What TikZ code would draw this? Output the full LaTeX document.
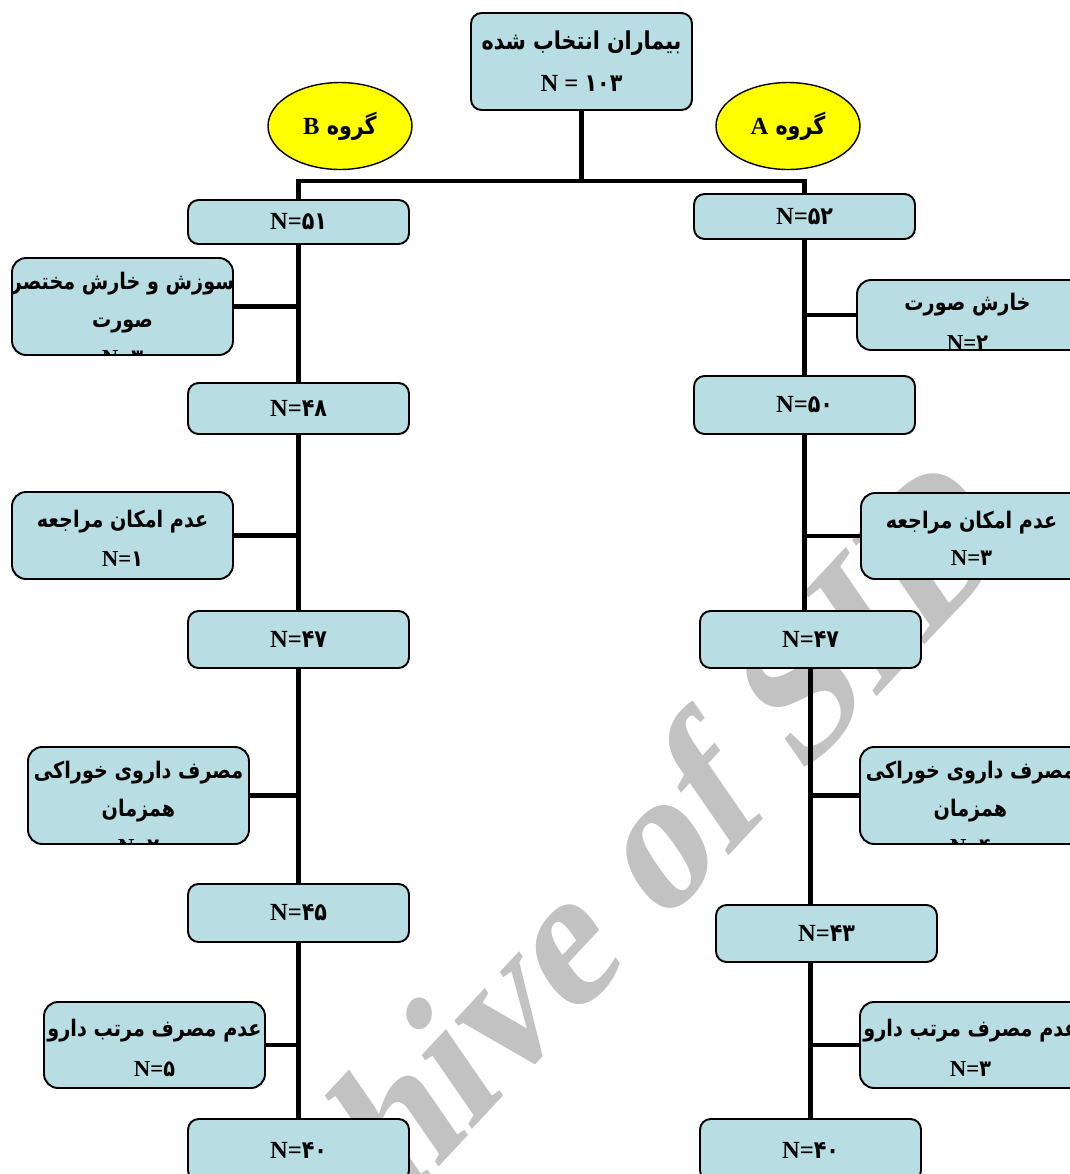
\documentclass[tikz,border=0pt]{standalone}
\usepackage{fontspec}
\setmainfont{Liberation Serif}
\newfontfamily\arabicfont[Script=Arabic, FakeStretch=0.84]{DejaVu Sans}
\newfontfamily\markfont[FakeSlant=0.22]{Liberation Serif}
\TeXXeTstate=1
\usetikzlibrary{shapes.geometric}

\definecolor{boxblue}{RGB}{184,222,227}
\definecolor{ovalyellow}{RGB}{255,255,0}
\definecolor{markgray}{RGB}{194,194,194}

\newcommand{\fa}[1]{\beginR #1\endR}
\newcommand{\Nis}[1]{{\rmfamily N=}{\arabicfont #1}}

\begin{document}
\begin{tikzpicture}[x=0.02cm, y=-0.02cm,
  stage/.style={draw, line width=1.1pt, rounded corners=6pt, fill=boxblue,
    minimum width=4.42cm, align=center, inner sep=0pt,
    font=\bfseries\fontsize{14}{24}\selectfont},
  sidebox/.style={draw, line width=1.1pt, rounded corners=8pt, fill=boxblue,
    minimum width=4.42cm, inner sep=0pt},
  sidetext/.style={align=center, inner sep=0pt,
    font=\arabicfont\bfseries\fontsize{13}{21.5}\selectfont},
  oval/.style={ellipse, draw, line width=0.8pt, fill=ovalyellow,
    minimum width=2.88cm, minimum height=1.74cm, inner sep=0pt,
    font=\arabicfont\bfseries\fontsize{14}{16}\selectfont},
  trunk/.style={line width=2.8pt}]

  \clip (0,0) rectangle (1070,1174);

  %%%%% WATERMARK (behind) %%%%%
  \node[rotate=47, text=markgray,
    font=\markfont\bfseries\fontsize{108}{108}\selectfont] (mark) at (556,944) {Archive of SID};

  %%%%% TOP %%%%%
  \node[stage, minimum height=1.94cm] (top) at (581.5,61.5)
    {{\arabicfont\fa{بیماران انتخاب شده}}\\{\rmfamily N = }{\arabicfont ۱۰۳}};
  \node[oval] (grpB) at (340,126) {\fa{گروه {\rmfamily B}}};
  \node[oval] (grpA) at (788,126) {\fa{گروه {\rmfamily A}}};
  \coordinate (fork) at (581.5,181);

  %%%%% GROUP B %%%%%
  \node[stage, minimum height=0.88cm] (b51) at (298.5,222) {\Nis{۵۱}};
  \node[stage, minimum height=1.02cm] (b48) at (298.5,408.5) {\Nis{۴۸}};
  \node[stage, minimum height=1.14cm] (b47) at (298.5,639.5) {\Nis{۴۷}};
  \node[stage, minimum height=1.16cm] (b45) at (298.5,913) {\Nis{۴۵}};
  \node[stage, minimum height=1.24cm] (b40) at (298.5,1150) {\Nis{۴۰}};

  \node[sidebox, minimum height=1.94cm] (sB1) at (122.5,306.5) {};
  \node[sidebox, minimum height=1.74cm] (sB2) at (122.5,535.5) {};
  \node[sidebox, minimum height=1.94cm] (sB3) at (138.5,795.5) {};
  \node[sidebox, minimum height=1.72cm] (sB4) at (154.5,1045) {};

  %%%%% GROUP A %%%%%
  \node[stage, minimum height=0.90cm] (a52) at (804.5,216.5) {\Nis{۵۲}};
  \node[stage, minimum height=1.16cm] (a50) at (804.5,405) {\Nis{۵۰}};
  \node[stage, minimum height=1.14cm] (a47) at (810.5,639.5) {\Nis{۴۷}};
  \node[stage, minimum height=1.14cm] (a43) at (826.5,933.5) {\Nis{۴۳}};
  \node[stage, minimum height=1.24cm] (a40) at (810.5,1150) {\Nis{۴۰}};

  % right side boxes run past the page edge
  \node[sidebox, minimum width=5.2cm, minimum height=1.40cm] (sA1) at (987,315) {};
  \node[sidebox, minimum width=5.2cm, minimum height=1.72cm] (sA2) at (991,536) {};
  \node[sidebox, minimum width=5.2cm, minimum height=1.94cm] (sA3) at (990,795.5) {};
  \node[sidebox, minimum width=5.2cm, minimum height=1.72cm] (sA4) at (990,1045) {};

  %%%%% SIDE TEXTS (cut by their boxes) %%%%%
  \foreach \bx/\gap/\dx/\txt in {sB1/8.5/0/{\fa{سوزش و خارش مختصر}\\\fa{صورت}\\\Nis{۳}},
                        sB2/10.5/0/{\fa{عدم امکان مراجعه}\\[1pt]\Nis{۱}},
                        sB3/8.5/0/{\fa{مصرف داروی خوراکی}\\\fa{همزمان}\\\Nis{۲}},
                        sB4/10/0/{\fa{عدم مصرف مرتب دارو}\\[1.5pt]\Nis{۵}},
                        sA1/8/-11.1/{\fa{خارش صورت}\\[1pt]\Nis{۲}},
                        sA2/10.5/-11.1/{\fa{عدم امکان مراجعه}\\\Nis{۳}},
                        sA3/8.5/-11.1/{\fa{مصرف داروی خوراکی}\\\fa{همزمان}\\\Nis{۴}},
                        sA4/10/-11.1/{\fa{عدم مصرف مرتب دارو}\\[1.5pt]\Nis{۳}}}{
    \begin{scope}
      \clip ([yshift=1.2pt]\bx.south west) rectangle (\bx.north east);
      \node[sidetext, anchor=north] (t\bx) at ([xshift=\dx pt, yshift=-\gap pt]\bx.north) {\txt};
    \end{scope}
  }

  %%%%% LINES %%%%%
  \draw[trunk] (top.south) -- (fork);
  \draw[trunk] (b51.north) |- (fork) -| (a52.north);

  \draw[trunk] (b51.south) -- (b48.north);
  \draw[trunk] (b48.south) -- (b47.north);
  \draw[trunk] (b47.south) -- (b45.north);
  \draw[trunk] (b45.south) -- (b40.north);
  \draw[trunk] (sB1.east) -- (sB1.east -| b51.south);
  \draw[trunk] (sB2.east) -- (sB2.east -| b48.south);
  \draw[trunk] (sB3.east) -- (sB3.east -| b47.south);
  \draw[trunk] (sB4.east) -- (sB4.east -| b45.south);

  \draw[trunk] (a52.south) -- (a50.north);
  \draw[trunk] (a50.south) -- (a50.south |- a47.north);
  \draw[trunk] (a47.south) -- (a47.south |- a43.north);
  \draw[trunk] (a40.north |- a43.south) -- (a40.north);
  \draw[trunk] (sA1.west) -- (sA1.west -| a52.south);
  \draw[trunk] (sA2.west) -- (sA2.west -| a50.south);
  \draw[trunk] (sA3.west) -- (sA3.west -| a47.south);
  \draw[trunk] (sA4.west) -- (sA4.west -| a40.north);
\end{tikzpicture}
\end{document}
